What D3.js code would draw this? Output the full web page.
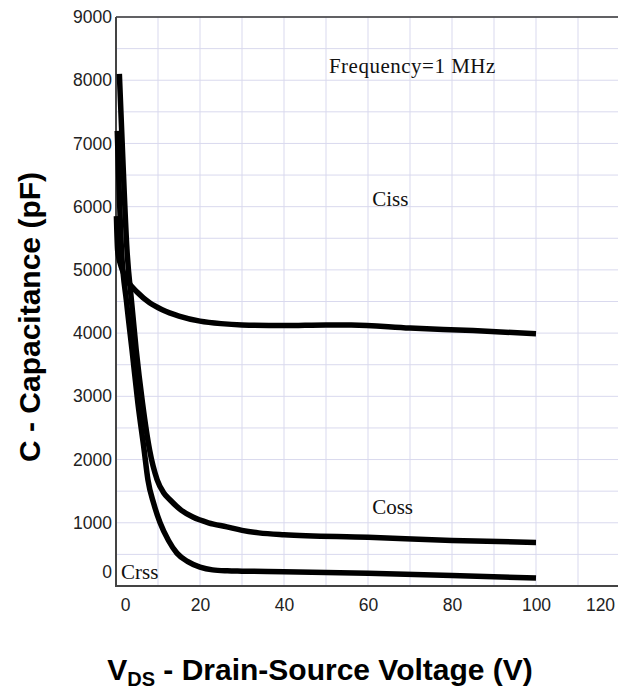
<!DOCTYPE html>
<html lang="en">
<head>
<meta charset="utf-8" />
<title>Capacitance vs VDS</title>
<script src="https://cdn.jsdelivr.net/npm/d3@7/dist/d3.min.js"></script>
<style>
  body { margin: 0; background: #fff; }
  svg text { font-family: "Liberation Sans", Arial, sans-serif; }
  .grid line { stroke: #d9d9ee; stroke-width: 1; }
  .tick text { font-size: 17.5px; fill: #222; }
  .note { font-family: "Liberation Serif", "Times New Roman", serif; font-size: 21px; fill: #111; }
  .title { font-weight: bold; font-size: 30px; fill: #000; }
  .curve { fill: none; stroke: #000; stroke-width: 5.5; stroke-linejoin: round; }
</style>
</head>
<body>
<script>
// tick values
var xTicks = [0, 20, 40, 60, 80, 100, 120];
var yTicks = [0, 1000, 2000, 3000, 4000, 5000, 6000, 7000, 8000, 9000];

// Ciss (pF) vs VDS (V)
var cissV = [0.1, 0.4, 1.5, 3, 5, 8, 11, 15, 20, 25, 30, 40, 50, 56, 70, 85, 100];
var cissC = [5850, 5300, 5000, 4800, 4650, 4480, 4370, 4270, 4190, 4150, 4130, 4120, 4130, 4130, 4080, 4040, 3990];

// Coss
var cossV = [0.8, 1.6, 2.6, 3.7, 4.8, 6.3, 8, 9.8, 11.3, 12.9, 15.5, 18.3, 22, 26.4, 30, 34, 40, 60, 80, 100];
var cossC = [8100, 6800, 5330, 4500, 3740, 2900, 2150, 1680, 1480, 1360, 1200, 1090, 1000, 935, 880, 840, 810, 770, 720, 690];

// Crss
var crssV = [0.3, 1.3, 2.5, 3.8, 5.2, 6.7, 7.6, 9, 10.5, 12.5, 14.5, 17, 20, 23, 26.5, 30, 40, 60, 80, 100];
var crssC = [7200, 5330, 4500, 3740, 2900, 2150, 1680, 1300, 1000, 720, 520, 390, 300, 255, 240, 235, 225, 200, 165, 125];

var width = 618, height = 692;
var plotL = 116, plotR = 620, plotT = 17, plotB = 586;

var svg = d3.select('body').append('svg')
    .attr('width', width)
    .attr('height', height);

var x = d3.scaleLinear().domain([0, 120]).range([plotL, plotR]);
var y = d3.scaleLinear().domain([0, 9000]).range([plotB, plotT]);

// grid: every 10 V and every 500 pF
var grid = svg.append('g').attr('class', 'grid');
grid.selectAll('.gx')
    .data(d3.range(10, 121, 10))
    .enter().append('line')
    .attr('x1', function(d) { return x(d); })
    .attr('x2', function(d) { return x(d); })
    .attr('y1', plotT)
    .attr('y2', plotB);
grid.selectAll('.gy')
    .data(d3.range(500, 9001, 500))
    .enter().append('line')
    .attr('x1', plotL)
    .attr('x2', width)
    .attr('y1', function(d) { return y(d); })
    .attr('y2', function(d) { return y(d); });

// frame lines
svg.append('line').attr('x1', plotL).attr('x2', width).attr('y1', plotT).attr('y2', plotT)
    .attr('stroke', '#333').attr('stroke-width', 1.5);
svg.append('line').attr('x1', plotL).attr('x2', plotL).attr('y1', plotT).attr('y2', plotB + 1)
    .attr('stroke', '#444').attr('stroke-width', 2);
svg.append('line').attr('x1', plotL - 1).attr('x2', width).attr('y1', plotB).attr('y2', plotB)
    .attr('stroke', '#444').attr('stroke-width', 2);

// axes (labels only)
var yAxis = svg.append('g')
    .attr('transform', 'translate(' + plotL + ',0)')
    .call(d3.axisLeft(y).tickValues(yTicks).tickSize(0).tickPadding(4).tickFormat(d3.format('d')));
yAxis.select('.domain').remove();
yAxis.selectAll('.tick text').attr('font-family', null).attr('font-size', null)
    .attr('dy', function(d) { return d === 0 ? '-0.5em' : '0.32em'; });

var xAxis = svg.append('g')
    .attr('transform', 'translate(0,' + plotB + ')')
    .call(d3.axisBottom(x).tickValues(xTicks).tickSize(0).tickPadding(13).tickFormat(d3.format('d')));
xAxis.select('.domain').remove();
xAxis.selectAll('.tick text').attr('font-family', null).attr('font-size', null)
    .attr('dx', function(d) { return d === 0 ? 9 : (d === 120 ? -20 : 0); });

// curves
var line = d3.line()
    .x(function(d) { return x(d[0]); })
    .y(function(d) { return y(d[1]); })
    .curve(d3.curveMonotoneX);

var series = [d3.zip(cissV, cissC), d3.zip(cossV, cossC), d3.zip(crssV, crssC)];
svg.selectAll('.curve')
    .data(series)
    .enter().append('path')
    .attr('class', 'curve')
    .attr('d', line);

// annotations
var notes = [
    { t: 'Frequency=1 MHz', v: 50.7, c: 8115 },
    { t: 'Ciss', v: 61, c: 6010 },
    { t: 'Coss', v: 61, c: 1140 },
    { t: 'Crss', v: 1.2, c: 110 }
];
svg.selectAll('.note')
    .data(notes)
    .enter().append('text')
    .attr('class', 'note')
    .attr('x', function(d) { return x(d.v); })
    .attr('y', function(d) { return y(d.c); })
    .attr('letter-spacing', function(d) { return d.t.length > 6 ? 0.5 : 0; })
    .text(function(d) { return d.t; });

// axis titles
svg.append('text')
    .attr('class', 'title')
    .attr('transform', 'translate(40,317) rotate(-90)')
    .attr('text-anchor', 'middle')
    .text('C - Capacitance (pF)');

var xt = svg.append('text')
    .attr('class', 'title')
    .attr('x', 320)
    .attr('y', 680)
    .attr('text-anchor', 'middle');
xt.append('tspan').text('V');
xt.append('tspan').attr('font-size', '20px').attr('dy', 6).text('DS');
xt.append('tspan').attr('dy', -6).text(' - Drain-Source Voltage (V)');
</script>
</body>
</html>
